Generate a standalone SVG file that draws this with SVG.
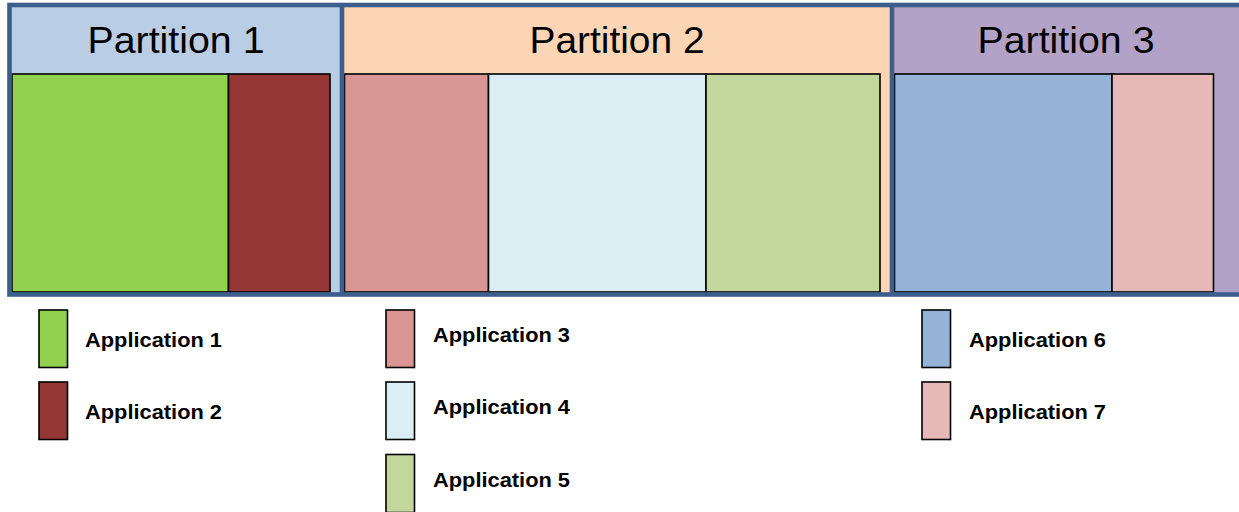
<svg xmlns="http://www.w3.org/2000/svg" width="1239" height="512" viewBox="0 0 1239 512">
  <style>
    .part-title { font-family: "Liberation Sans", Arial, sans-serif; font-size: 36px; fill: #000; text-anchor: middle; }
    .app { stroke: #000; stroke-width: 1.6; }
    .swatch { stroke: #000; stroke-width: 1.6; }
    .legend-label { font-family: "Liberation Sans", Arial, sans-serif; font-size: 20.5px; font-weight: bold; fill: #000; }
    .frame { fill: none; stroke: #3b5e8c; stroke-width: 4.6; }
    .a1 { fill: #92d050; } .a2 { fill: #953735; } .a3 { fill: #d99694; }
    .a4 { fill: #dbeef4; } .a5 { fill: #c3d69b; } .a6 { fill: #95b3d7; } .a7 { fill: #e6b9b8; }
  </style>

  <rect width="1239" height="512" fill="#ffffff"/>

  <!-- Partition 1 -->
  <g id="partition-1">
    <rect x="9.5" y="5" width="332.5" height="289.5" fill="#b9cde5"/>
    <text class="part-title" x="176" y="53" textLength="177" lengthAdjust="spacingAndGlyphs">Partition 1</text>
    <g id="app-1-block"><rect class="app a1" x="12" y="74" width="216.5" height="218"/></g>
    <g id="app-2-block"><rect class="app a2" x="228.5" y="74" width="101.5" height="218"/></g>
  </g>

  <!-- Partition 2 -->
  <g id="partition-2">
    <rect x="342" y="5" width="550" height="289.5" fill="#fcd5b5"/>
    <text class="part-title" x="617" y="53" textLength="175" lengthAdjust="spacingAndGlyphs">Partition 2</text>
    <g id="app-3-block"><rect class="app a3" x="344.5" y="74" width="144" height="218"/></g>
    <g id="app-4-block"><rect class="app a4" x="488.5" y="74" width="217.5" height="218"/></g>
    <g id="app-5-block"><rect class="app a5" x="706" y="74" width="174" height="218"/></g>
  </g>

  <!-- Partition 3 -->
  <g id="partition-3">
    <rect x="892" y="5" width="349" height="289.5" fill="#b3a2c7"/>
    <text class="part-title" x="1066" y="53" textLength="177" lengthAdjust="spacingAndGlyphs">Partition 3</text>
    <g id="app-6-block"><rect class="app a6" x="894.5" y="74" width="217.5" height="218"/></g>
    <g id="app-7-block"><rect class="app a7" x="1112" y="74" width="101.5" height="218"/></g>
  </g>

  <!-- outer frame and partition dividers -->
  <g id="frame">
    <rect class="frame" x="9.5" y="5" width="1232" height="289.5"/>
    <line class="frame" x1="342" y1="5" x2="342" y2="294.5"/>
    <line class="frame" x1="892" y1="5" x2="892" y2="294.5"/>
  </g>

  <!-- Legend -->
  <g id="legend-app-1">
    <rect class="swatch a1" x="39" y="310" width="28.5" height="57.5"/>
    <text class="legend-label" x="85" y="346.5" textLength="137" lengthAdjust="spacingAndGlyphs">Application 1</text>
  </g>
  <g id="legend-app-2">
    <rect class="swatch a2" x="39" y="382" width="28.5" height="57.5"/>
    <text class="legend-label" x="85" y="418.5" textLength="137" lengthAdjust="spacingAndGlyphs">Application 2</text>
  </g>
  <g id="legend-app-3">
    <rect class="swatch a3" x="386" y="310" width="28.5" height="57.5"/>
    <text class="legend-label" x="433" y="341.5" textLength="137" lengthAdjust="spacingAndGlyphs">Application 3</text>
  </g>
  <g id="legend-app-4">
    <rect class="swatch a4" x="386" y="382" width="28.5" height="57.5"/>
    <text class="legend-label" x="433" y="414" textLength="137" lengthAdjust="spacingAndGlyphs">Application 4</text>
  </g>
  <g id="legend-app-5">
    <rect class="swatch a5" x="386" y="454.5" width="28.5" height="58"/>
    <text class="legend-label" x="433" y="487" textLength="137" lengthAdjust="spacingAndGlyphs">Application 5</text>
  </g>
  <g id="legend-app-6">
    <rect class="swatch a6" x="922" y="310" width="28.5" height="57.5"/>
    <text class="legend-label" x="969" y="346.5" textLength="137" lengthAdjust="spacingAndGlyphs">Application 6</text>
  </g>
  <g id="legend-app-7">
    <rect class="swatch a7" x="922" y="382" width="28.5" height="57.5"/>
    <text class="legend-label" x="969" y="418.5" textLength="137" lengthAdjust="spacingAndGlyphs">Application 7</text>
  </g>
</svg>
